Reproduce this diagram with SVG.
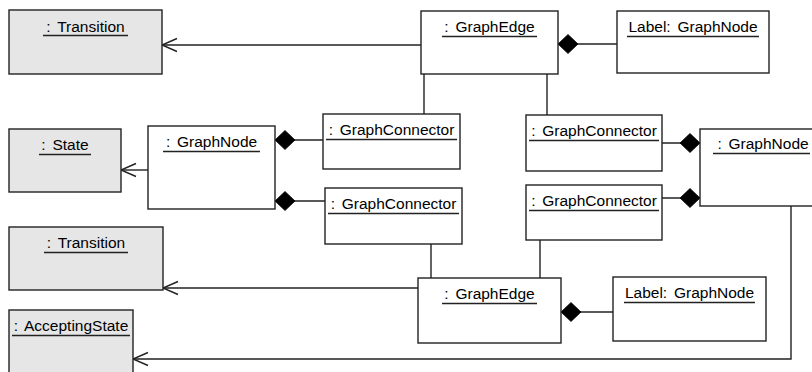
<svg xmlns="http://www.w3.org/2000/svg" width="812" height="372" viewBox="0 0 812 372">
<style>
.box{fill:#ffffff;stroke:#222;stroke-width:1.4}
.gray{fill:#e6e6e6}
.t{font-family:"Liberation Sans",Arial,sans-serif;font-size:15.5px;word-spacing:2.5px;fill:#000;text-anchor:middle}
.u{stroke:#222;stroke-width:1.3}
.c{fill:none;stroke:#222;stroke-width:1.4}
</style>
<defs>
<marker id="open" markerUnits="userSpaceOnUse" viewBox="-17 -8 19 16" markerWidth="19" markerHeight="16" refX="0" refY="0" orient="auto" overflow="visible">
<path d="M-15,-6.5 L0,0 L-15,6.5" fill="none" stroke="#222" stroke-width="1.4"/>
</marker>
<marker id="diamond" markerUnits="userSpaceOnUse" viewBox="-1 -10 22 20" markerWidth="22" markerHeight="20" refX="0" refY="0" orient="auto" overflow="visible">
<path d="M0,0 L10,-9.5 L20,0 L10,9.5 Z" fill="#000" stroke="#000" stroke-width="0.8"/>
</marker>
</defs>

<g id="connectors">
<line class="c" x1="421" y1="45" x2="162" y2="45" marker-end="url(#open)"/>
<line class="c" x1="558" y1="44" x2="617" y2="44" marker-start="url(#diamond)"/>
<line class="c" x1="424" y1="74" x2="424" y2="114"/>
<line class="c" x1="547" y1="74" x2="547" y2="115"/>
<line class="c" x1="148" y1="170" x2="121" y2="170" marker-end="url(#open)"/>
<line class="c" x1="275" y1="140" x2="323" y2="140" marker-start="url(#diamond)"/>
<line class="c" x1="275" y1="201" x2="325" y2="201" marker-start="url(#diamond)"/>
<line class="c" x1="700" y1="143" x2="662" y2="143" marker-start="url(#diamond)"/>
<line class="c" x1="700" y1="198" x2="662" y2="198" marker-start="url(#diamond)"/>
<line class="c" x1="431" y1="244" x2="431" y2="278"/>
<line class="c" x1="540" y1="240" x2="540" y2="278"/>
<line class="c" x1="418" y1="288" x2="163" y2="288" marker-end="url(#open)"/>
<line class="c" x1="561" y1="312" x2="613" y2="312" marker-start="url(#diamond)"/>
<polyline class="c" points="791,206 791,359 133,359" marker-end="url(#open)"/>
</g>

<g id="transition1">
<rect class="box gray" x="9" y="10" width="153" height="64"/>
<text class="t" x="85.5" y="32">: Transition</text>
<line class="u" x1="43" y1="35.5" x2="128" y2="35.5"/>
</g>

<g id="graphedge1">
<rect class="box" x="421" y="11" width="137" height="63"/>
<text class="t" x="489.5" y="32">: GraphEdge</text>
<line class="u" x1="442" y1="36.5" x2="537" y2="36.5"/>
</g>

<g id="label1">
<rect class="box" x="617" y="11" width="152" height="62"/>
<text class="t" x="693" y="32">Label: GraphNode</text>
<line class="u" x1="627" y1="36.5" x2="759" y2="36.5"/>
</g>

<g id="state">
<rect class="box gray" x="9" y="129" width="112" height="63"/>
<text class="t" x="65" y="150">: State</text>
<line class="u" x1="39" y1="154.5" x2="91" y2="154.5"/>
</g>

<g id="graphnode1">
<rect class="box" x="148" y="126" width="127" height="83"/>
<text class="t" x="211.5" y="147">: GraphNode</text>
<line class="u" x1="163" y1="151.5" x2="260" y2="151.5"/>
</g>

<g id="connector1">
<rect class="box" x="323" y="114" width="137" height="55"/>
<text class="t" x="391.5" y="135">: GraphConnector</text>
<line class="u" x1="326" y1="139.5" x2="457" y2="139.5"/>
</g>

<g id="connector2">
<rect class="box" x="325" y="188" width="137" height="56"/>
<text class="t" x="393.5" y="209">: GraphConnector</text>
<line class="u" x1="328" y1="213.5" x2="459" y2="213.5"/>
</g>

<g id="connector3">
<rect class="box" x="526" y="115" width="136" height="56"/>
<text class="t" x="594" y="136">: GraphConnector</text>
<line class="u" x1="529" y1="140.5" x2="659" y2="140.5"/>
</g>

<g id="connector4">
<rect class="box" x="526" y="185" width="136" height="55"/>
<text class="t" x="594" y="206">: GraphConnector</text>
<line class="u" x1="529" y1="210.5" x2="659" y2="210.5"/>
</g>

<g id="graphnode2">
<rect class="box" x="700" y="129" width="126" height="77"/>
<text class="t" x="763" y="149">: GraphNode</text>
<line class="u" x1="713" y1="153.5" x2="810" y2="153.5"/>
</g>

<g id="transition2">
<rect class="box gray" x="9" y="227" width="154" height="63"/>
<text class="t" x="86" y="248">: Transition</text>
<line class="u" x1="44" y1="252.5" x2="128" y2="252.5"/>
</g>

<g id="acceptingstate">
<rect class="box gray" x="9" y="310" width="124" height="72"/>
<text class="t" x="71" y="331">: AcceptingState</text>
<line class="u" x1="12" y1="335.5" x2="130" y2="335.5"/>
</g>

<g id="graphedge2">
<rect class="box" x="418" y="278" width="143" height="65"/>
<text class="t" x="489.5" y="299">: GraphEdge</text>
<line class="u" x1="442" y1="303.5" x2="537" y2="303.5"/>
</g>

<g id="label2">
<rect class="box" x="613" y="277" width="153" height="64"/>
<text class="t" x="689.5" y="298">Label: GraphNode</text>
<line class="u" x1="624" y1="302.5" x2="755" y2="302.5"/>
</g>
</svg>
